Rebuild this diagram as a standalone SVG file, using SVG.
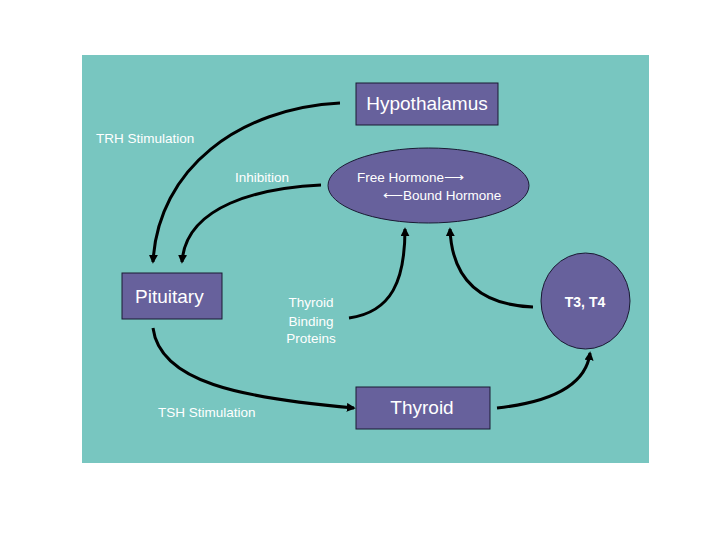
<svg xmlns="http://www.w3.org/2000/svg" width="720" height="540" viewBox="0 0 720 540">
<style>
.node{fill:#67619c;stroke:#1a1a33;stroke-width:1}
.lbl{font-family:"Liberation Sans",Arial,sans-serif;fill:#ffffff}
.big{font-size:19px}
.small{font-size:13.5px}
.conn{fill:none;stroke:#000;stroke-width:3}
</style>
<defs>
<marker id="ah" viewBox="0 0 10 10" refX="8" refY="5" markerWidth="3" markerHeight="3" orient="auto" markerUnits="strokeWidth">
<path d="M0,0 L10,5 L0,10 z" fill="#000"/>
</marker>
</defs>
<rect x="0" y="0" width="720" height="540" fill="#ffffff"/>
<rect x="82" y="55" width="567" height="408" fill="#78c6c0"/>
<g id="connectors">
<path class="conn" marker-end="url(#ah)" d="M340,103 C240,108 158,168 153,262"/>
<path class="conn" marker-end="url(#ah)" d="M321,185 C260,188 186,205 182,262"/>
<path class="conn" marker-end="url(#ah)" d="M153,328 C160,382 240,398 354,408"/>
<path class="conn" marker-end="url(#ah)" d="M497,408 C552,402 586,385 590,353"/>
<path class="conn" marker-end="url(#ah)" d="M349,318 C392,312 405,280 405,229"/>
<path class="conn" marker-end="url(#ah)" d="M533,307 C480,305 452,280 450,229"/>
</g>
<g id="labels">
<text class="lbl small" x="96" y="143">TRH Stimulation</text>
<text class="lbl small" x="235" y="182">Inhibition</text>
<text class="lbl small" x="311" y="307" text-anchor="middle">Thyroid</text>
<text class="lbl small" x="311" y="326" text-anchor="middle">Binding</text>
<text class="lbl small" x="311" y="343" text-anchor="middle">Proteins</text>
<text class="lbl small" x="158" y="417">TSH Stimulation</text>
</g>
<g id="hypothalamus">
<rect class="node" x="356" y="83" width="142" height="42"/>
<text class="lbl big" x="427" y="110" text-anchor="middle">Hypothalamus</text>
</g>
<g id="hormone">
<ellipse class="node" cx="428.5" cy="185.5" rx="100.5" ry="37.5"/>
<text class="lbl small" x="357" y="182">Free Hormone⟶</text>
<text class="lbl small" x="383" y="200">⟵Bound Hormone</text>
</g>
<g id="pituitary">
<rect class="node" x="122" y="273" width="100" height="46"/>
<text class="lbl big" x="135" y="303">Pituitary</text>
</g>
<g id="thyroid">
<rect class="node" x="356" y="387" width="134" height="42"/>
<text class="lbl big" x="422" y="414" text-anchor="middle">Thyroid</text>
</g>
<g id="t3t4">
<ellipse class="node" cx="585.5" cy="301" rx="44.5" ry="48"/>
<text class="lbl" x="585" y="307" text-anchor="middle" font-size="14" font-weight="bold">T3, T4</text>
</g>
</svg>
